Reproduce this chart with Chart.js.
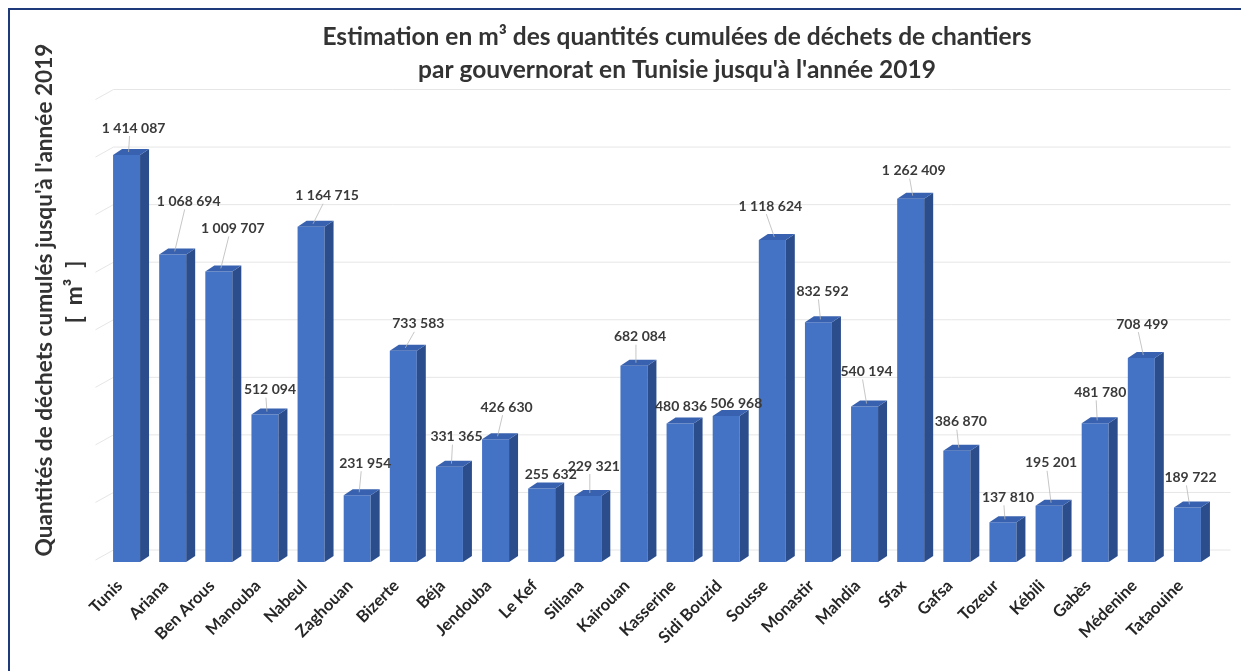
<!DOCTYPE html>
<html>
<head>
<meta charset="utf-8">
<script src="https://cdn.jsdelivr.net/npm/chart.js@4.4.1/dist/chart.umd.min.js"></script>
<style>
  html, body { margin: 0; padding: 0; background: #ffffff; }
  #wrap { width: 1241px; height: 671px; position: relative; }
  canvas { display: block; }
</style>
</head>
<body>
<div id="wrap"><canvas id="c" width="1241" height="671"></canvas></div>
<script>
// ---- Data ----
const categories = ["Tunis", "Ariana", "Ben Arous", "Manouba", "Nabeul", "Zaghouan", "Bizerte", "Béja",
  "Jendouba", "Le Kef", "Siliana", "Kairouan", "Kasserine", "Sidi Bouzid", "Sousse", "Monastir",
  "Mahdia", "Sfax", "Gafsa", "Tozeur", "Kébili", "Gabès", "Médenine", "Tataouine"];
const values = [1414087, 1068694, 1009707, 512094, 1164715, 231954, 733583, 331365,
  426630, 255632, 229321, 682084, 480836, 506968, 1118624, 832592,
  540194, 1262409, 386870, 137810, 195201, 481780, 708499, 189722];
const yTicks = [0, 200000, 400000, 600000, 800000, 1000000, 1200000, 1400000, 1600000];
const titleLines = ["Estimation en m³ des quantités cumulées de déchets de chantiers",
  "par gouvernorat en Tunisie jusqu'à l'année 2019"];
const yTitleLines = ["Quantités de déchets cumulés jusqu'à l'année 2019", "[  m³  ]"];
// label placement (style only, px)
const labelLift = [27, 53, 43, 25, 31, 32, 27, 30, 32, 14, 30, 29, 17, 13, 34, 31, 35, 28, 29, 25, 43, 31, 34, 30];
const labelShiftX = [7, 16, 14, 5, 16, 8, 15, 7, 11, 9, 6, 6, 1, 10, -2, 4, 2, 3, 4, 5, 2, 5, 1, 3];

const fmt = v => String(v).replace(/\B(?=(\d{3})+(?!\d))/g, " ");
const DX = 9, DY = -6, WALL_DX = 10, WALL_DY = -12;
const FONT = "Lato, 'Open Sans', sans-serif";

const decorPlugin = {
  id: "decor",
  beforeDraw(chart) {
    const ctx = chart.ctx;
    ctx.save();
    ctx.fillStyle = "#ffffff";
    ctx.fillRect(0, 0, chart.width, chart.height);
    // border
    ctx.strokeStyle = "#1F3A7A";
    ctx.lineWidth = 2;
    ctx.strokeRect(9, 9, chart.width + 10, chart.height + 10);
    // titles
    ctx.fillStyle = "#333333";
    ctx.font = "bold 24.5px " + FONT;
    ctx.textAlign = "center";
    ctx.textBaseline = "middle";
    ctx.fillText(titleLines[0], 677, 37);
    ctx.fillText(titleLines[1], 677, 70);
    // y title
    ctx.font = "bold 22.6px " + FONT;
    ctx.save();
    ctx.translate(45, 300);
    ctx.rotate(-Math.PI / 2);
    ctx.fillText(yTitleLines[0], 0, 0);
    ctx.restore();
    ctx.save();
    ctx.translate(75, 292);
    ctx.rotate(-Math.PI / 2);
    ctx.fillText(yTitleLines[1], 0, 0);
    ctx.restore();
    ctx.restore();
  },
  beforeDatasetsDraw(chart) {
    const ctx = chart.ctx, y = chart.scales.y, a = chart.chartArea;
    ctx.save();
    ctx.strokeStyle = "#e6e6e6";
    ctx.lineWidth = 1;
    yTicks.forEach(v => {
      const yf = y.getPixelForValue(v);
      const yb = yf + WALL_DY;
      ctx.beginPath();
      ctx.moveTo(a.left - 8, yb + 10);
      ctx.lineTo(a.left + WALL_DX, yb);
      ctx.lineTo(a.right + 20, yb);
      ctx.stroke();
    });
    ctx.restore();
  },
  afterDatasetsDraw(chart) {
    const ctx = chart.ctx;
    const meta = chart.getDatasetMeta(0);
    ctx.save();
    meta.data.forEach((bar, i) => {
      const p = bar.getProps(["x", "y", "base", "width"], true);
      const l = p.x - p.width / 2, r = p.x + p.width / 2;
      // side
      ctx.fillStyle = "#2C4D8C";
      ctx.beginPath();
      ctx.moveTo(r, p.y);
      ctx.lineTo(r + DX, p.y + DY);
      ctx.lineTo(r + DX, p.base + DY);
      ctx.lineTo(r, p.base);
      ctx.closePath();
      ctx.fill();
      // top
      ctx.fillStyle = "#3862AF";
      ctx.beginPath();
      ctx.moveTo(l, p.y);
      ctx.lineTo(l + DX, p.y + DY);
      ctx.lineTo(r + DX, p.y + DY);
      ctx.lineTo(r, p.y);
      ctx.closePath();
      ctx.fill();
      // label
      const lx = p.x + labelShiftX[i], ly = p.y - labelLift[i];
      if (labelLift[i] > 24) {
        ctx.strokeStyle = "#b8b8b8";
        ctx.lineWidth = 0.8;
        ctx.beginPath();
        ctx.moveTo(lx - 4, ly + 8);
        ctx.lineTo(p.x + 2, p.y - 3);
        ctx.stroke();
      }
      ctx.fillStyle = "#3a3a3a";
      ctx.font = "bold 14px " + FONT;
      ctx.textAlign = "center";
      ctx.textBaseline = "middle";
      ctx.fillText(fmt(values[i]), lx, ly);
    });
    ctx.restore();
  }
};

new Chart(document.getElementById("c"), {
  type: "bar",
  data: {
    labels: categories,
    datasets: [{
      data: values,
      backgroundColor: "#4472C4",
      borderWidth: 0,
      categoryPercentage: 1.0,
      barPercentage: 0.585
    }]
  },
  options: {
    responsive: false,
    animation: false,
    layout: { padding: { left: 103.5, right: 30.5, top: 101.5, bottom: 0 } },
    plugins: { legend: { display: false }, tooltip: { enabled: false }, title: { display: false } },
    scales: {
      y: {
        display: false,
        min: 0, max: 1600000,
        ticks: { stepSize: 200000 }
      },
      x: {
        grid: { display: false },
        border: { display: false },
        afterFit(scale) { scale.height = 109; },
        ticks: {
          minRotation: 45, maxRotation: 45,
          padding: 6,
          labelOffset: -7,
          color: "#262626",
          font: { family: FONT, size: 16.5, weight: "bold" }
        }
      }
    }
  },
  plugins: [decorPlugin]
});
</script>
</body>
</html>
